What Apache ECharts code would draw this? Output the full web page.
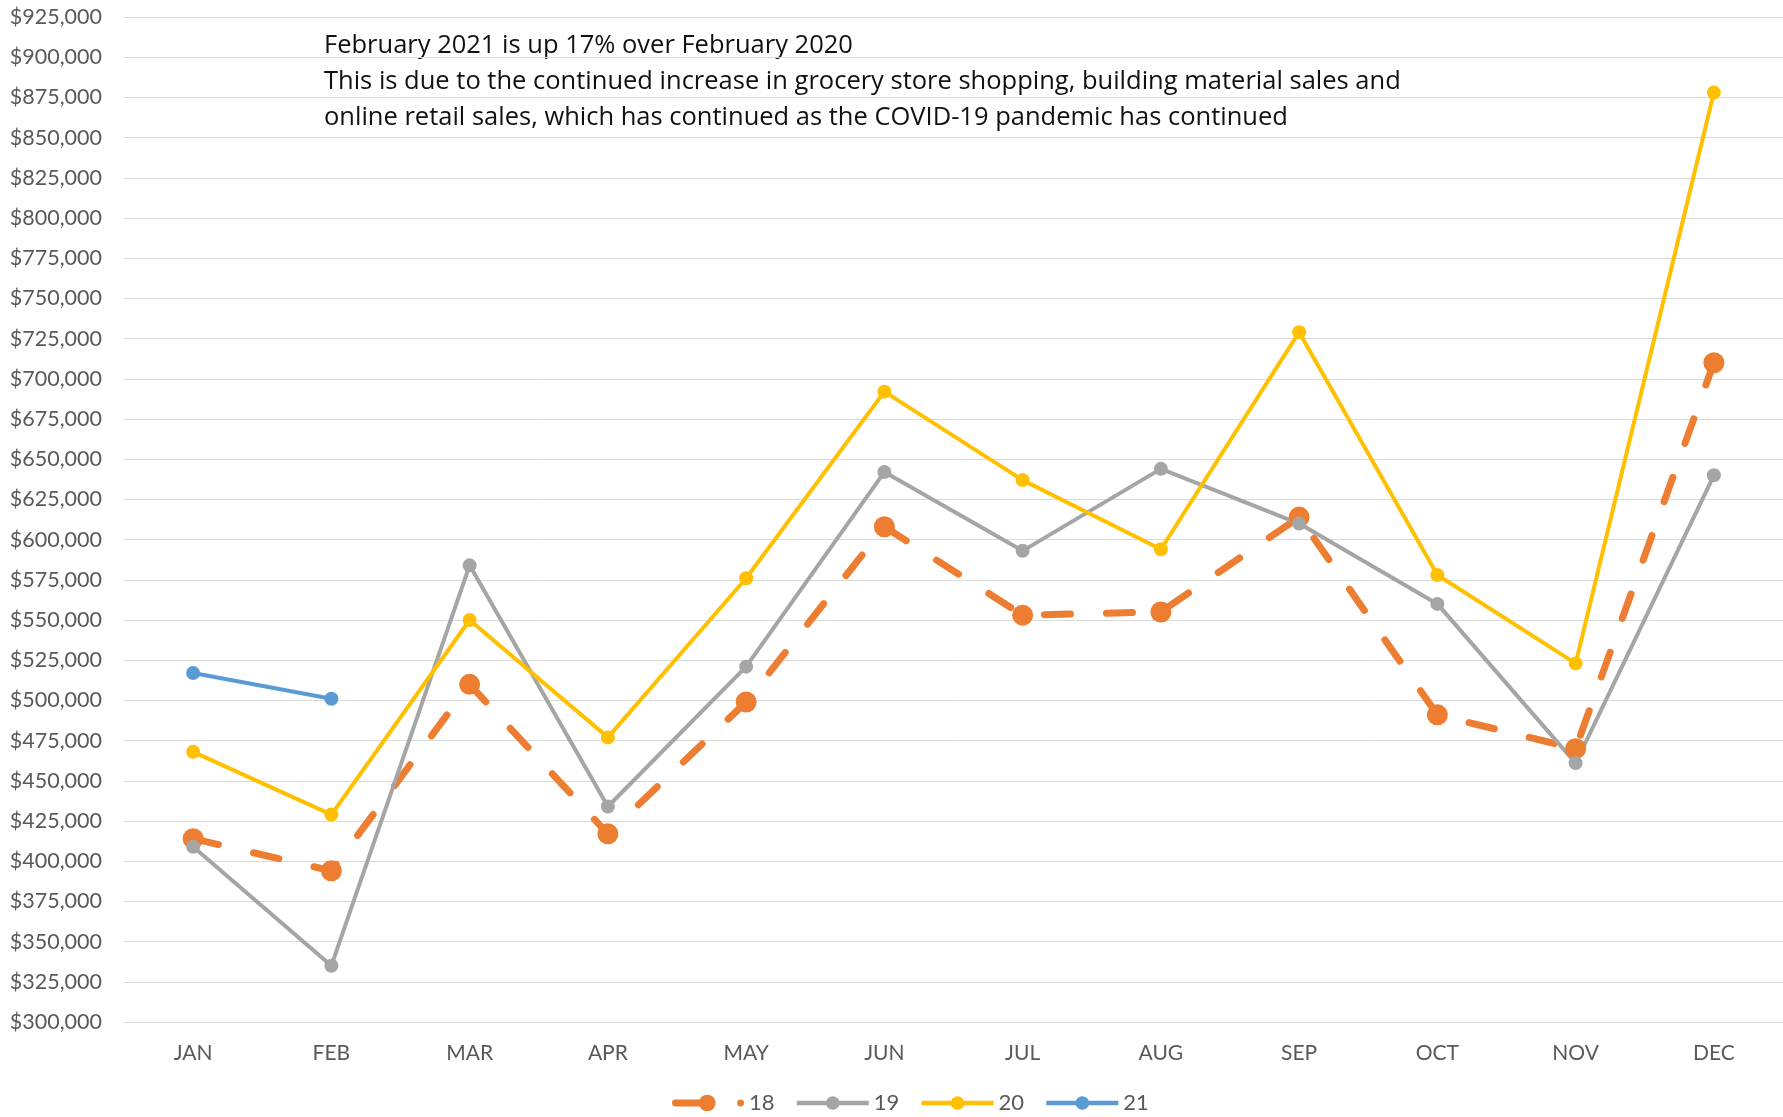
<!DOCTYPE html>
<html>
<head>
	<meta charset="UTF-8">
	<title>Monthly sales</title>
	<script src="https://cdn.jsdelivr.net/npm/echarts@6/dist/echarts.min.js"></script>
	<style>
		html, body { margin: 0; padding: 0; background: #fff; }
	</style>
</head>
<body>
	<div id="main" style="width: 1783px; height: 1117px;"></div>
	<script>
		// months on the x axis
		var months = ['JAN', 'FEB', 'MAR', 'APR', 'MAY', 'JUN', 'JUL', 'AUG', 'SEP', 'OCT', 'NOV', 'DEC'];

		// monthly totals per year
		var sales18 = [414000, 394000, 510000, 417000, 499000, 608000, 553000, 555000, 614000, 491000, 470000, 710000];
		var sales19 = [409000, 335000, 584000, 434000, 521000, 642000, 593000, 644000, 610000, 560000, 461000, 640000];
		var sales20 = [468000, 429000, 550000, 477000, 576000, 692000, 637000, 594000, 729000, 578000, 523000, 878000];
		var sales21 = [517000, 501000];

		var note = [
			'February 2021 is up 17% over February 2020',
			'This is due to the continued increase in grocery store shopping, building material sales and',
			'online retail sales, which has continued as the COVID-19 pandemic has continued'
		];

		var myChart = echarts.init(document.getElementById('main'));

		var fnt = 'Lato';
		var colors = { '18': '#ED7D31', '19': '#A5A5A5', '20': '#FFC000', '21': '#5B9BD5' };

		// legend key for the dashed series: short stub, big dot, small dot (like excel draws it)
		var dashKey = 'path://M3.5,5 L36,5 L36,12 L3.5,12 A3.5,3.5 0 0 1 3.5,5 Z' +
			' M27.5,8.5 A8.5,8.5 0 1 1 44.5,8.5 A8.5,8.5 0 1 1 27.5,8.5 Z' +
			' M66.5,8.5 A3.5,3.5 0 1 1 73.5,8.5 A3.5,3.5 0 1 1 66.5,8.5 Z';

		function money(v) {
			return '$' + v.toString().replace(/\B(?=(\d{3})+(?!\d))/g, ',');
		}

		var option = {
			backgroundColor: '#fff',
			animation: false,
			textStyle: { fontFamily: fnt },
			grid: { left: 124, right: 0, top: 17, bottom: 95, containLabel: false },
			legend: {
				top: 1087,
				left: 667,
				itemWidth: 72,
				itemHeight: 17,
				itemGap: 20,
				textStyle: { fontSize: 22, color: '#595959', fontFamily: fnt },
				data: [
					{ name: '18', icon: dashKey },
					{ name: '19', lineStyle: { width: 4.5 } },
					{ name: '20', lineStyle: { width: 4.5 } },
					{ name: '21', lineStyle: { width: 4.5 } }
				]
			},
			xAxis: {
				type: 'category',
				data: months,
				boundaryGap: true,
				axisLine: { show: true, lineStyle: { color: '#D9D9D9', width: 1 } },
				axisTick: { show: false },
				axisLabel: { color: '#595959', fontSize: 21, margin: 21, fontFamily: fnt }
			},
			yAxis: {
				type: 'value',
				min: 300000,
				max: 925000,
				interval: 25000,
				axisLine: { show: false },
				axisTick: { show: false },
				axisLabel: {
					color: '#595959', fontSize: 21.5, margin: 22, fontFamily: fnt,
					formatter: money
				},
				splitLine: { lineStyle: { color: '#D9D9D9', width: 1 } }
			},
			graphic: [{
				type: 'text',
				left: 324,
				top: 28,
				style: {
					text: note.join('\n'),
					font: '25.5px "Open Sans"',
					lineHeight: 36,
					fill: '#111'
				}
			}],
			series: [{
				name: '18',
				type: 'line',
				data: sales18,
				symbol: 'circle',
				symbolSize: 21,
				itemStyle: { color: colors['18'] },
				lineStyle: { color: colors['18'], width: 7, type: [26, 36], cap: 'round' }
			}, {
				name: '19',
				type: 'line',
				data: sales19,
				symbol: 'circle',
				symbolSize: 14,
				itemStyle: { color: colors['19'] },
				lineStyle: { color: colors['19'], width: 4 }
			}, {
				name: '20',
				type: 'line',
				data: sales20,
				symbol: 'circle',
				symbolSize: 14,
				itemStyle: { color: colors['20'] },
				lineStyle: { color: colors['20'], width: 4 }
			}, {
				name: '21',
				type: 'line',
				data: sales21,
				symbol: 'circle',
				symbolSize: 14,
				itemStyle: { color: colors['21'] },
				lineStyle: { color: colors['21'], width: 4 }
			}]
		};

		myChart.setOption(option);
	</script>
</body>
</html>
